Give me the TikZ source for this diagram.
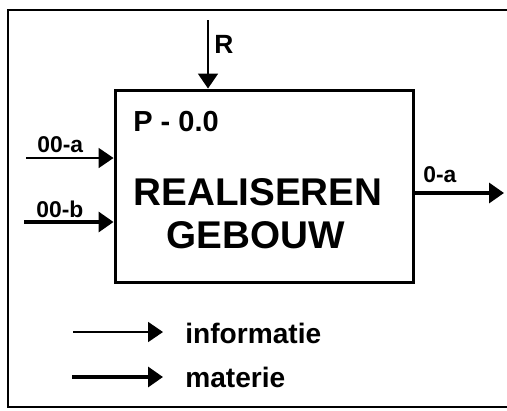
\documentclass[tikz,border=0pt]{standalone}
\usepackage{fontspec}
\setmainfont{Liberation Sans}
\usetikzlibrary{arrows.meta,positioning,calc}
\tikzset{
  proc/.style={draw,line width=1.7pt,minimum width=5.98cm,minimum height=3.86cm,inner sep=0pt},
  info/.style={-{Triangle[length=3mm,width=4mm]},line width=1.1pt},
  mat/.style={-{Triangle[length=3mm,width=4mm]},line width=1.9pt},
  lbl/.style={font=\bfseries\fontsize{13}{13}\selectfont,inner sep=0pt,anchor=base west},
  titel/.style={font=\bfseries\fontsize{22}{22}\selectfont,inner sep=0pt,anchor=base},
  legtxt/.style={font=\bfseries\fontsize{16}{16}\selectfont,inner sep=0pt,anchor=base west},
}

\begin{document}
\begin{tikzpicture}[x=0.02cm,y=-0.02cm]
  \useasboundingbox (0,0) rectangle (507,410);
  % frame, open at the right
  \draw[line width=1.1pt] (507,10) -- (8,10) -- (8,407) -- (507,407);
  \node[proc] (P) at (264.5,186.5) {};
  \node[font=\bfseries\fontsize{16.5}{16.5}\selectfont,inner sep=0pt,anchor=base west] (Pnr) at (133,131) {P - 0.0};
  \node[titel] (Pa) at (258,205) {REALISEREN};
  \node[titel] (Pb) at (256,248) {GEBOUW};
  % besturing
  \coordinate (Rin) at (208,20);
  \draw[info] (Rin) -- (Rin |- P.north);
  \node[font=\bfseries\fontsize{15}{15}\selectfont,inner sep=0pt,anchor=base west] (Rl) at (214,53) {R};
  % invoer
  \coordinate (Ain) at (26,158);
  \coordinate (Bin) at (24,222);
  \draw[info] (Ain) -- (Ain -| P.west);
  \draw[mat] (Bin) -- (Bin -| P.west);
  \node[lbl] (Al) at (37,152) {00-a};
  \node[lbl] (Bl) at (36,217) {00-b};
  % uitvoer
  \coordinate (Uit) at (504,193);
  \draw[mat] (Uit -| P.east) -- (Uit);
  \node[lbl] (Ul) at (423,182) {0-a};
  % legenda
  \node[legtxt] (Li) at (185,343) {informatie};
  \node[legtxt] (Lm) at (185,387) {materie};
  \coordinate (Li0) at (73,332);
  \coordinate (Lm0) at (72,377);
  \draw[info] (Li0) -- (163,332);
  \draw[mat] (Lm0) -- (163,377);
\end{tikzpicture}
\end{document}
